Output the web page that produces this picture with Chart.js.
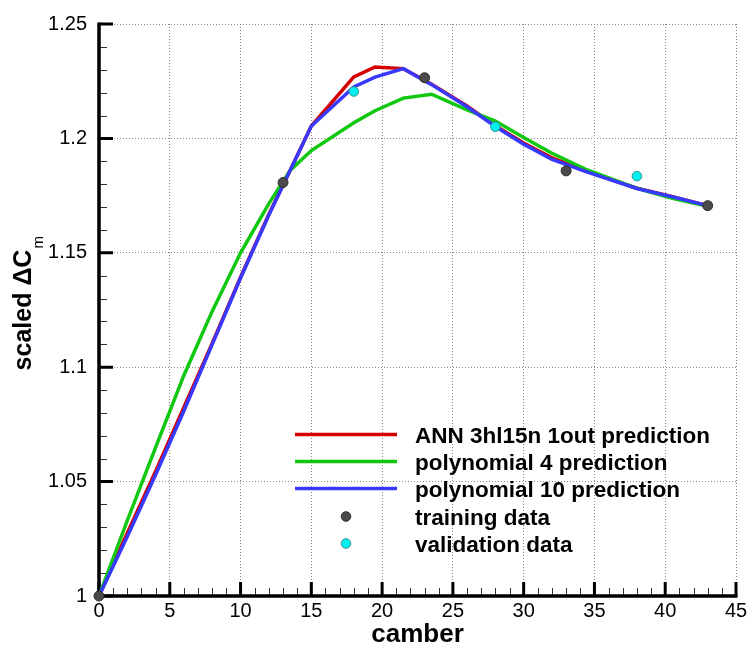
<!DOCTYPE html>
<html>
<head>
<meta charset="utf-8">
<script src="https://cdn.jsdelivr.net/npm/chart.js@4/dist/chart.umd.min.js"></script>
<style>
  html, body { margin: 0; padding: 0; background: #ffffff; }
  #wrap { width: 751px; height: 652px; }
</style>
</head>
<body>
<div id="wrap"><canvas id="c" width="751" height="652"></canvas></div>
<script>
// ---------------- data ----------------
const camber   = [0, 2, 4, 6, 8, 10, 12, 13.5, 15, 18, 19.5, 21.5, 23.5, 26, 28, 30, 32, 34.5, 38, 40.5, 43];
const annPred  = [1.0, 1.0275, 1.0545, 1.0825, 1.1105, 1.1393, 1.1668, 1.186, 1.2054, 1.2269, 1.2312, 1.2305, 1.2237, 1.2142, 1.2055, 1.1980, 1.1915, 1.1856, 1.1782, 1.1745, 1.1706];
const poly4Pred  = [1.0, 1.033, 1.065, 1.0965, 1.1245, 1.150, 1.1715, 1.186, 1.1947, 1.2068, 1.2121, 1.2176, 1.2193, 1.2125, 1.2076, 1.2004, 1.1935, 1.1862, 1.1782, 1.1738, 1.1703];
const poly10Pred = [1.0, 1.026, 1.053, 1.081, 1.110, 1.139, 1.1665, 1.186, 1.2054, 1.2225, 1.2268, 1.2305, 1.2235, 1.2138, 1.2052, 1.1975, 1.1908, 1.1853, 1.1781, 1.1745, 1.1706];
const trainX = [0, 13, 23, 33, 43];
const trainY = [1.0, 1.1807, 1.2265, 1.1858, 1.1706];
const validX = [18, 28, 38];
const validY = [1.2205, 1.2051, 1.1835];
const xTickValues = [0, 5, 10, 15, 20, 25, 30, 35, 40, 45];
const xTickLabels = ['0', '5', '10', '15', '20', '25', '30', '35', '40', '45'];
const yTickValues = [1, 1.05, 1.1, 1.15, 1.2, 1.25];
const yTickLabels = ['1', '1.05', '1.1', '1.15', '1.2', '1.25'];
const seriesNames = ['ANN 3hl15n 1out prediction', 'polynomial 4 prediction', 'polynomial 10 prediction', 'training data', 'validation data'];

// ---------------- helpers ----------------
const FONT = "'Liberation Sans', Arial, Helvetica, sans-serif";
const pts = (xs, ys) => xs.map((x, i) => ({ x: x, y: ys[i] }));
const COLORS = { ann: '#d40000', p4: '#10c810', p10: '#3838ff', train: '#4a4a4a', valid: '#00f0f0' };

// Axis lines + inward ticks (major and minor) via the scales
const axesPlugin = {
  id: 'axesPlugin',
  beforeDatasetsDraw(chart) {
    const { ctx, chartArea: a, scales: { x, y } } = chart;
    ctx.save();
    ctx.strokeStyle = '#333';
    ctx.lineWidth = 1;
    ctx.beginPath();
    for (let v = 1; v < 45; v++) {
      if (v % 5 === 0) continue;
      const px = Math.round(x.getPixelForValue(v)) + 0.5;
      ctx.moveTo(px, a.bottom); ctx.lineTo(px, a.bottom - 8);
    }
    for (let k = 1; k < 25; k++) {
      if (k % 5 === 0) continue;
      const py = Math.round(y.getPixelForValue(1 + k * 0.01)) + 0.5;
      ctx.moveTo(a.left, py); ctx.lineTo(a.left + 8, py);
    }
    ctx.stroke();
    ctx.strokeStyle = '#000';
    ctx.lineWidth = 3;
    ctx.beginPath();
    xTickValues.forEach(v => {
      const px = x.getPixelForValue(v);
      ctx.moveTo(px, a.bottom); ctx.lineTo(px, a.bottom - 14);
    });
    yTickValues.forEach(v => {
      const py = y.getPixelForValue(v);
      ctx.moveTo(a.left, py); ctx.lineTo(a.left + 14, py);
    });
    ctx.stroke();
    ctx.lineWidth = 3.5;
    ctx.beginPath();
    ctx.moveTo(a.left, a.top - 1.5); ctx.lineTo(a.left, a.bottom);
    ctx.lineTo(a.right + 1.5, a.bottom);
    ctx.stroke();
    ctx.restore();
  }
};

// subscript "m" after the y-axis title
const subscriptPlugin = {
  id: 'subscriptPlugin',
  afterDraw(chart) {
    const { ctx, chartArea: a } = chart;
    const t = chart.scales.y.options.title;
    ctx.save();
    ctx.font = 'bold 25px ' + FONT;
    const w = ctx.measureText(t.text).width;
    const cy = (a.top + a.bottom) / 2;
    ctx.translate(43, cy - w / 2 - 1);
    ctx.rotate(-Math.PI / 2);
    ctx.font = '15px ' + FONT;
    ctx.fillStyle = '#000';
    ctx.textAlign = 'left';
    ctx.textBaseline = 'alphabetic';
    ctx.fillText('m', 0, 0);
    ctx.restore();
  }
};

// legend inside the plot area
const legendPlugin = {
  id: 'legendPlugin',
  afterDatasetsDraw(chart) {
    const { ctx } = chart;
    const x0 = 295, x1 = 397, tx = 415;
    const rows = [434.5, 461.5, 488.5, 516.5, 543.5];
    ctx.save();
    chart.data.datasets.forEach((ds, i) => {
      const yy = rows[i];
      if (ds.showLine) {
        ctx.strokeStyle = ds.borderColor;
        ctx.lineWidth = 3.5;
        ctx.beginPath(); ctx.moveTo(x0, yy); ctx.lineTo(x1, yy); ctx.stroke();
      } else {
        ctx.beginPath();
        ctx.arc((x0 + x1) / 2, yy, 4.8, 0, Math.PI * 2);
        ctx.fillStyle = ds.backgroundColor;
        ctx.fill();
        ctx.lineWidth = 1;
        ctx.strokeStyle = ds.borderColor;
        ctx.stroke();
      }
      ctx.fillStyle = '#000';
      ctx.font = 'bold 22.5px ' + FONT;
      ctx.textAlign = 'left';
      ctx.textBaseline = 'alphabetic';
      ctx.fillText(ds.label, tx, yy + 8);
    });
    ctx.restore();
  }
};

const lineDs = (label, ys, color, order) => ({
  label: label, data: pts(camber, ys), showLine: true, borderColor: color, backgroundColor: color,
  borderWidth: 3.5, pointRadius: 0, pointHoverRadius: 0, tension: 0, fill: false, order: order
});

new Chart(document.getElementById('c'), {
  type: 'scatter',
  data: {
    datasets: [
      lineDs(seriesNames[0], annPred, COLORS.ann, 5),
      lineDs(seriesNames[1], poly4Pred, COLORS.p4, 4),
      lineDs(seriesNames[2], poly10Pred, COLORS.p10, 3),
      { label: seriesNames[3], data: pts(trainX, trainY), showLine: false, pointRadius: 5, order: 2,
        backgroundColor: COLORS.train, borderColor: '#2e2e2e', borderWidth: 1, clip: false },
      { label: seriesNames[4], data: pts(validX, validY), showLine: false, pointRadius: 4.8, order: 1,
        backgroundColor: COLORS.valid, borderColor: '#3f8f8f', borderWidth: 1, clip: false }
    ]
  },
  options: {
    responsive: false,
    animation: false,
    events: [],
    layout: { padding: { top: 14, right: 15, left: 0, bottom: 0 } },
    plugins: { legend: { display: false }, tooltip: { enabled: false } },
    scales: {
      x: {
        type: 'linear', min: 0, max: 45,
        afterFit(s) { s.height = 56; },
        afterBuildTicks(s) { s.ticks = xTickValues.map(v => ({ value: v })); },
        ticks: { callback: (v, i) => xTickLabels[i], color: '#000', padding: 3, maxRotation: 0,
                 font: { family: FONT, size: 20 } },
        grid: { color: '#8a8a8a', lineWidth: 1, drawTicks: false },
        border: { display: false, dash: [1, 2] },
        title: { display: true, text: 'camber', color: '#000', padding: { top: 0, bottom: 2 },
                 font: { family: FONT, size: 26, weight: 'bold' } }
      },
      y: {
        type: 'linear', min: 1, max: 1.25,
        afterFit(s) { s.width = 99; },
        afterBuildTicks(s) { s.ticks = yTickValues.map(v => ({ value: v })); },
        ticks: { callback: (v, i) => yTickLabels[i], color: '#000', padding: 12,
                 font: { family: FONT, size: 20 } },
        grid: { color: '#8a8a8a', lineWidth: 1, drawTicks: false },
        border: { display: false, dash: [1, 2] },
        title: { display: true, text: 'scaled \u0394C', color: '#000', padding: { top: 9, bottom: 0 },
                 font: { family: FONT, size: 25, weight: 'bold' } }
      }
    }
  },
  plugins: [axesPlugin, legendPlugin, subscriptPlugin]
});
</script>
</body>
</html>
